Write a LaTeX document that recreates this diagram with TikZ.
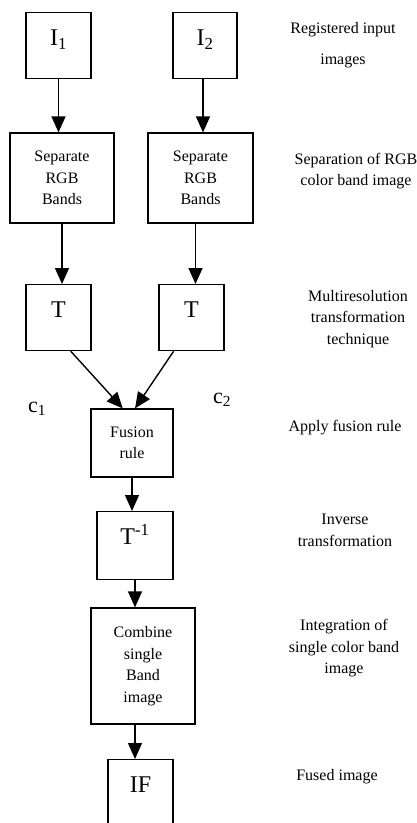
\documentclass[tikz,border=0pt]{standalone}
\usepackage{fontspec}
\setmainfont{Liberation Serif}
\usepackage{tikz}
\usetikzlibrary{arrows.meta}

\newcommand{\boxfont}{\fontsize{16}{21.5}\selectfont}
\newcommand{\symfont}{\fontsize{24}{28}\selectfont}
\newcommand{\cfont}{\fontsize{22}{26}\selectfont}

\tikzset{
    blk/.style={draw, line width=1.2pt, inner sep=0pt, align=center, font=\boxfont},
    sym/.style={blk, anchor=north, text height=33pt, font=\symfont},
    lbl/.style={align=center, font=\boxfont},
    arr/.style={-{Triangle[width=14pt,length=16pt]}, line width=1.4pt}
}

\begin{document}
\begin{tikzpicture}[x=1pt, y=-1pt]
    \useasboundingbox (0,0) rectangle (417,823);
    \clip (0,0) rectangle (417,823);

    % Draw the input images
    \node[sym, minimum width=65pt, text depth=33pt] (i1) at (58.5,12) {I\textsubscript{1}};
    \node[sym, minimum width=64pt, text depth=33pt] (i2) at (205,12) {I\textsubscript{2}};

    % Draw the band separation
    \node[blk, minimum width=104pt, minimum height=90pt] (sep1) at (62,178) {Separate\\RGB\\Bands};
    \node[blk, minimum width=105pt, minimum height=90pt] (sep2) at (200.5,178) {Separate\\RGB\\Bands};

    % Draw the transforms
    \node[sym, minimum width=65pt, text depth=33pt] (t1) at (58.5,284) {T};
    \node[sym, minimum width=65pt, text depth=33pt] (t2) at (191.5,284) {T};

    % Draw the fusion and the rest of the chain
    \node[blk, minimum width=82pt, minimum height=68pt] (fus) at (132,443) {Fusion\\rule};
    \node[sym, minimum width=76pt, text depth=35pt] (tinv) at (135,511) {T\textsuperscript{-1}};
    \node[blk, minimum width=104pt, minimum height=116pt] (comb) at (143,666) {Combine\\single\\Band\\image};
    \node[sym, minimum width=65pt, text depth=40pt] (if) at (140.5,759) {IF};

    % Coefficients
    \node[font=\cfont] (c1) at (37,409) {c\textsubscript{1}};
    \node[font=\cfont] (c2) at (222,400) {c\textsubscript{2}};

    % Draw the arrows
    \draw[arr] (i1.south) -- (i1.south |- sep1.north);
    \draw[arr] ([xshift=-2pt]i2.south) -- ([xshift=-2pt]i2.south |- sep2.north);
    \draw[arr] (sep1.south) -- (sep1.south |- t1.north);
    \draw[arr] ([xshift=-5pt]sep2.south) -- ([xshift=-5pt]sep2.south |- t2.north);
    \draw[arr] (t1.-70) -- (fus.105);
    \draw[arr] (t2.-118) -- (fus.85);
    \draw[arr] (fus.south) -- (fus.south |- tinv.north);
    \draw[arr] (tinv.south) -- (tinv.south |- comb.north);
    \draw[arr] (comb.south -| tinv.south) -- (tinv.south |- if.north);

    % Label the steps
    \node[lbl] (lreg) at (343,45.5) {Registered input\\[9.5pt]images};
    \node[lbl] (lsep) at (356,171) {Separation of RGB\\color band image};
    \node[lbl] (lmrt) at (358,319) {Multiresolution\\transformation\\technique};
    \node[lbl] (lfus) at (345,428) {Apply fusion rule};
    \node[lbl] (linv) at (345,530.5) {Inverse\\transformation};
    \node[lbl] (lint) at (344,648.5) {Integration of\\single color band\\image};
    \node[lbl] (lif) at (337,777) {Fused image};
\end{tikzpicture}
\end{document}
